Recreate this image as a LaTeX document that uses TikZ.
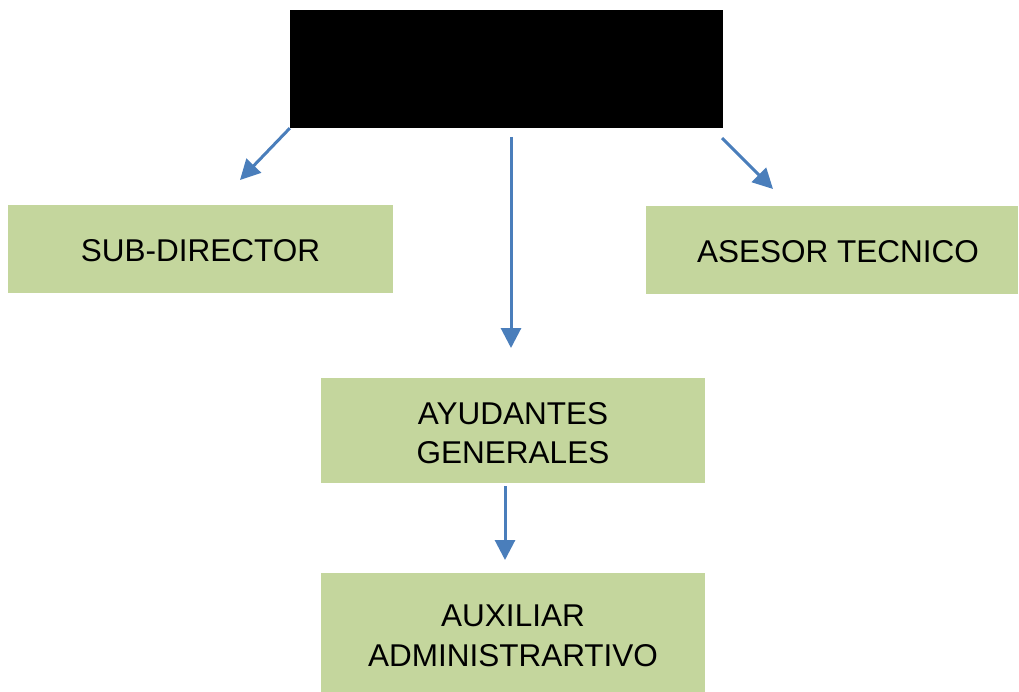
\documentclass[tikz,border=0pt]{standalone}
\usepackage{fontspec}
\setmainfont{Liberation Sans}
\usetikzlibrary{arrows.meta}
\definecolor{boxgreen}{HTML}{C4D69D}
\definecolor{linkblue}{HTML}{4A7EBB}
\begin{document}
\begin{tikzpicture}[x=1pt,y=-1pt,
  unitbox/.style={fill=boxgreen,draw=none,inner sep=0pt},
  unittext/.style={inner sep=0pt,align=center,font=\fontsize{31.5}{39}\selectfont},
  link/.style={draw=linkblue,line width=3pt,-{Triangle[length=20pt,width=20pt]}}]
\useasboundingbox (0,0) rectangle (1019,692);
% head of the organisation
\node[fill=black,inner sep=0pt,minimum width=433pt,minimum height=118pt] (head) at (506.5,69) {};
% subordinate units
\node[unitbox,minimum width=385pt,minimum height=88pt] (sub) at (200.5,249) {};
\node[unittext] (subtxt) at (200.5,251) {SUB-DIRECTOR};
\node[unitbox,minimum width=372pt,minimum height=88pt] (ase) at (832,250) {};
\node[unittext] (asetxt) at (838,252) {ASESOR TECNICO};
\node[unitbox,minimum width=384pt,minimum height=105pt] (ayu) at (513,430.5) {};
\node[unittext] (ayutxt) at (513,433) {AYUDANTES\\GENERALES};
\node[unitbox,minimum width=384pt,minimum height=119pt] (aux) at (513,632.5) {};
\node[unittext,font=\fontsize{31.5}{40}\selectfont] (auxtxt) at (513,636) {AUXILIAR\\ADMINISTRARTIVO};
% free arrow ends
\coordinate (e1) at (240,180);
\coordinate (s3) at (722,138);
\coordinate (e3) at (773,189);
\coordinate (s2) at (511,137);
\coordinate (e2) at (511,348);
\coordinate (s4) at (505,486);
\coordinate (e4) at (505,560);
\draw[link] (head.south west) -- (e1);
\draw[link] (s2) -- (e2);
\draw[link] (s3) -- (e3);
\draw[link] (s4) -- (e4);
\end{tikzpicture}
\end{document}
